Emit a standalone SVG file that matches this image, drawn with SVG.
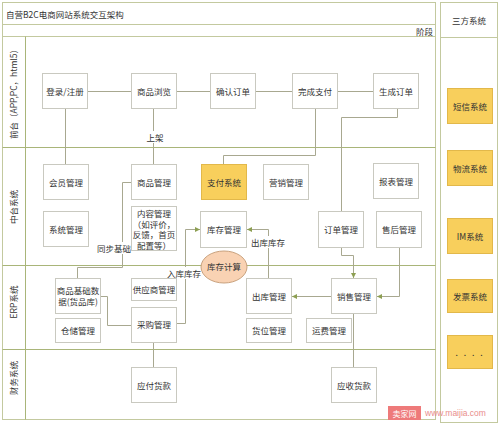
<svg xmlns="http://www.w3.org/2000/svg" width="500" height="426" viewBox="0 0 500 426">
<defs>
<style>
text{font-family:"Noto Sans CJK SC","Liberation Sans",sans-serif;font-size:8.5px;fill:#333;}
.c{text-anchor:middle;dominant-baseline:central;}
.frame{fill:none;stroke:#c3c99f;stroke-width:1;}
.lane{fill:none;stroke:#a9b579;stroke-width:1;}
.box{fill:#fff;stroke:#c9c9c0;stroke-width:1;}
.ybox{fill:#f8cf5c;stroke:#e2b84a;stroke-width:1;}
.ln{fill:none;stroke:#a8a890;stroke-width:1;}
.bg{fill:#fff;}
</style>
<marker id="ah" viewBox="0 0 6 6" refX="6" refY="3" markerWidth="5" markerHeight="5" orient="auto">
<path d="M0,0L6,3L0,6z" fill="#8d9f52"/>
</marker>
</defs>
<rect width="500" height="426" fill="#fff"/>

<g id="frame">
<rect class="frame" x="2.5" y="2.5" width="433" height="417"/>
<line class="frame" x1="2.5" y1="24.5" x2="435.5" y2="24.5"/>
<line class="frame" x1="2.5" y1="36.5" x2="435.5" y2="36.5"/>
<line class="lane" x1="25.5" y1="36.5" x2="25.5" y2="419.5"/>
<line class="lane" x1="2.5" y1="147.5" x2="435.5" y2="147.5"/>
<line class="lane" x1="2.5" y1="265.5" x2="435.5" y2="265.5"/>
<line class="lane" x1="2.5" y1="349.5" x2="435.5" y2="349.5"/>
<text x="6" y="14" dominant-baseline="central">自营B2C电商网站系统交互架构</text>
<text x="433" y="31" text-anchor="end" dominant-baseline="central">阶段</text>
<text class="c" transform="translate(13,92) rotate(-90)">前台（APP,PC，html5）</text>
<text class="c" transform="translate(13,207) rotate(-90)">中台系统</text>
<text class="c" transform="translate(13,302) rotate(-90)">ERP系统</text>
<text class="c" transform="translate(13,378) rotate(-90)">财务系统</text>
</g>

<g id="third-party">
<rect class="frame" x="440.5" y="2.5" width="57" height="420"/>
<line class="frame" x1="440.5" y1="37.5" x2="497.5" y2="37.5"/>
<text class="c" x="469" y="20">三方系统</text>
</g>

<g id="connectors">
<path class="ln" d="M88,91.5H131M176,91.5H210M255,91.5H292M337,91.5H373"/>
<path class="ln" d="M65.5,109V164"/>
<path class="ln" d="M153.5,109V164"/>
<path class="ln" d="M315.5,109V155.5H223.5V164"/>
<path class="ln" d="M397.5,109V117.5H341.5V211"/>
<path class="ln" d="M341.5,248V255.5H353.5V278" marker-end="url(#ah)"/>
<path class="ln" d="M399.5,248V296.5H377" marker-end="url(#ah)"/>
<path class="ln" d="M331,296.5H292" marker-end="url(#ah)"/>
<path class="ln" d="M268.5,278V229.5H247" marker-end="url(#ah)"/>
<path class="ln" d="M176,323.5H185.5V229.5H200" marker-end="url(#ah)"/>
<path class="ln" d="M131,182.5H122.5V267.5H77.5V278"/>
<path class="ln" d="M100,296.5H107.5V325.5H131"/>
<path class="ln" d="M153.5,342V367"/>
<path class="ln" d="M353.5,313V367"/>
<rect class="bg" x="146" y="131" width="18" height="12"/>
<text class="c" x="155" y="137">上架</text>
<rect class="bg" x="97" y="242" width="34" height="12"/>
<text class="c" x="114" y="248">同步基础</text>
<rect class="bg" x="167" y="267" width="34" height="12"/>
<text class="c" x="184" y="273">入库库存</text>
<rect class="bg" x="251" y="236" width="34" height="12"/>
<text class="c" x="268" y="242">出库库存</text>
</g>

<g id="n-login"><rect class="box" x="42.5" y="73.5" width="45" height="35"/><text class="c" x="65" y="91">登录/注册</text></g>
<g id="n-browse"><rect class="box" x="131.5" y="73.5" width="45" height="35"/><text class="c" x="154" y="91">商品浏览</text></g>
<g id="n-confirm"><rect class="box" x="210.5" y="73.5" width="45" height="35"/><text class="c" x="233" y="91">确认订单</text></g>
<g id="n-paydone"><rect class="box" x="292.5" y="73.5" width="45" height="35"/><text class="c" x="315" y="91">完成支付</text></g>
<g id="n-genorder"><rect class="box" x="373.5" y="73.5" width="45" height="35"/><text class="c" x="396" y="91">生成订单</text></g>

<g id="n-member"><rect class="box" x="43.5" y="164.5" width="45" height="35"/><text class="c" x="66" y="182">会员管理</text></g>
<g id="n-goods"><rect class="box" x="131.5" y="164.5" width="45" height="35"/><text class="c" x="154" y="182">商品管理</text></g>
<g id="n-paysys"><rect class="ybox" x="201.5" y="164.5" width="45" height="35"/><text class="c" x="224" y="182">支付系统</text></g>
<g id="n-marketing"><rect class="box" x="263.5" y="164.5" width="45" height="35"/><text class="c" x="286" y="182">营销管理</text></g>
<g id="n-report"><rect class="box" x="373.5" y="163.5" width="45" height="35"/><text class="c" x="396" y="181">报表管理</text></g>
<g id="n-sysmgr"><rect class="box" x="43.5" y="211.5" width="45" height="35"/><text class="c" x="66" y="229">系统管理</text></g>
<g id="n-content"><rect class="box" x="131.5" y="206.5" width="45" height="44"/>
<text class="c" x="154" y="213">内容管理</text><text class="c" x="154" y="223.5">（如评价，</text><text class="c" x="154" y="234">反馈，首页</text><text class="c" x="154" y="244.5">配置等）</text></g>
<g id="n-stock"><rect class="box" x="200.5" y="211.5" width="46" height="36"/><text class="c" x="224" y="229">库存管理</text></g>
<g id="n-order"><rect class="box" x="318.5" y="211.5" width="45" height="36"/><text class="c" x="341" y="229">订单管理</text></g>
<g id="n-aftersale"><rect class="box" x="376.5" y="211.5" width="45" height="36"/><text class="c" x="399" y="229">售后管理</text></g>

<g id="n-stockcalc"><ellipse cx="224" cy="267" rx="23" ry="16" fill="#f9d2b3" stroke="#c9a27e" stroke-width="1"/><text class="c" x="224" y="266">库存计算</text></g>

<g id="n-basedata"><rect class="box" x="55.5" y="278.5" width="45" height="35"/><text class="c" x="78" y="290">商品基础数</text><text class="c" x="78" y="301">据(货品库)</text></g>
<g id="n-warehouse"><rect class="box" x="55.5" y="318.5" width="45" height="24"/><text class="c" x="78" y="330">仓储管理</text></g>
<g id="n-supplier"><rect class="box" x="131.5" y="278.5" width="45" height="22"/><text class="c" x="154" y="289">供应商管理</text></g>
<g id="n-purchase"><rect class="box" x="131.5" y="307.5" width="45" height="35"/><text class="c" x="154" y="324">采购管理</text></g>
<g id="n-outbound"><rect class="box" x="246.5" y="278.5" width="45" height="35"/><text class="c" x="269" y="296">出库管理</text></g>
<g id="n-location"><rect class="box" x="246.5" y="318.5" width="45" height="24"/><text class="c" x="269" y="330">货位管理</text></g>
<g id="n-freight"><rect class="box" x="306.5" y="318.5" width="45" height="24"/><text class="c" x="329" y="330">运费管理</text></g>
<g id="n-sales"><rect class="box" x="331.5" y="278.5" width="45" height="35"/><text class="c" x="354" y="296">销售管理</text></g>

<g id="n-payable"><rect class="box" x="131.5" y="367.5" width="45" height="35"/><text class="c" x="154" y="385">应付货款</text></g>
<g id="n-receivable"><rect class="box" x="331.5" y="367.5" width="45" height="35"/><text class="c" x="354" y="385">应收货款</text></g>

<g id="n-sms"><rect class="ybox" x="447.5" y="88.5" width="45" height="35"/><text class="c" x="470" y="106">短信系统</text></g>
<g id="n-logistics"><rect class="ybox" x="447.5" y="150.5" width="45" height="35"/><text class="c" x="470" y="168">物流系统</text></g>
<g id="n-im"><rect class="ybox" x="447.5" y="218.5" width="45" height="35"/><text class="c" x="470" y="236">IM系统</text></g>
<g id="n-invoice"><rect class="ybox" x="447.5" y="279.5" width="45" height="33"/><text class="c" x="470" y="296">发票系统</text></g>
<g id="n-more"><rect class="ybox" x="447.5" y="335.5" width="45" height="33"/><text class="c" x="470" y="352" style="letter-spacing:2px">. . . .</text></g>

<g id="watermark">
<rect x="388" y="406" width="33" height="14" fill="#ee7a7a"/>
<text class="c" x="404.5" y="413" style="fill:#fff;font-size:8px">卖家网</text>
<text x="425" y="413" dominant-baseline="central" style="fill:#e98c8c;font-size:8.5px;font-family:'Liberation Sans',sans-serif">www.maijia.com</text>
</g>
</svg>
